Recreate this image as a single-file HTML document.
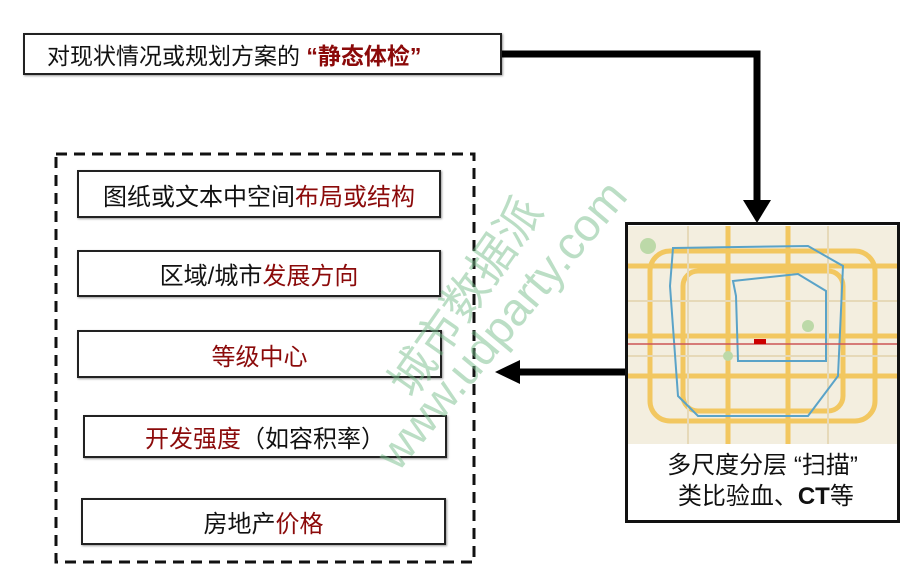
<!DOCTYPE html>
<html><head><meta charset="utf-8"><style>
body{margin:0;background:#fff;width:914px;height:579px;position:relative;overflow:hidden;font-family:"Liberation Sans","Noto Sans CJK SC",sans-serif}
.b{position:absolute;border:2px solid #222;background:#fff;box-sizing:border-box;display:flex;align-items:center;justify-content:center;font-size:24px;color:#111;box-shadow:1px 1px 2px #999}
.r{color:#8b0a0a}
</style></head><body>
<div class="b" style="left:23px;top:33px;width:479px;height:42px;font-size:23px;justify-content:flex-start;padding-left:22px">对现状情况或规划方案的&nbsp;<span class="r" style="font-weight:bold">“静态体检”</span></div>
<svg style="position:absolute;left:0;top:0" width="914" height="579">
<polyline points="502,54 757,54 757,205" fill="none" stroke="#000" stroke-width="7"/>
<polygon points="743,200 771,200 757,223" fill="#000"/>
<line x1="625" y1="372" x2="512" y2="372" stroke="#000" stroke-width="7"/>
<polygon points="495,372 520,360 520,384" fill="#000"/>
<rect x="56" y="154" width="418" height="408" fill="none" stroke="#111" stroke-width="3" stroke-dasharray="11,7"/>
</svg>
<div class="b" style="left:77px;top:170px;width:364px;height:48px">图纸或文本中空间<span class="r">布局或结构</span></div>
<div class="b" style="left:77px;top:250px;width:364px;height:47px">区域/城市<span class="r">发展方向</span></div>
<div class="b" style="left:77px;top:330px;width:365px;height:48px"><span class="r">等级中心</span></div>
<div class="b" style="left:83px;top:415px;width:364px;height:43px"><span class="r">开发强度</span>（如容积率）</div>
<div class="b" style="left:81px;top:498px;width:365px;height:47px">房地产<span class="r">价格</span></div>
<div style="position:absolute;left:625px;top:222px;width:275px;height:301px;border:3px solid #111;box-sizing:border-box;background:#fff">
<svg width="269" height="218" style="display:block;margin:1px 0 0 0" viewBox="0 0 269 218">
<rect width="269" height="218" fill="#f3eedf"/>
<g stroke="#f2c760" stroke-width="5" fill="none">
<rect x="22" y="25" width="225" height="170" rx="20"/>
<rect x="55" y="45" width="160" height="140" rx="15"/>
<line x1="0" y1="40" x2="269" y2="40"/><line x1="0" y1="110" x2="269" y2="110"/>
<line x1="0" y1="150" x2="269" y2="150"/><line x1="100" y1="0" x2="100" y2="218"/>
<line x1="160" y1="0" x2="160" y2="218"/>
</g>
<g stroke="#e6d9b8" stroke-width="2"><line x1="0" y1="75" x2="269" y2="75"/><line x1="0" y1="130" x2="269" y2="130"/><line x1="60" y1="0" x2="60" y2="218"/><line x1="200" y1="0" x2="200" y2="218"/></g>
<g stroke="#5aa3c8" stroke-width="2" fill="none">
<path d="M45 22 L180 20 L215 40 L210 150 L180 190 L70 190 L50 170 L42 60 Z"/>
<path d="M105 55 L170 48 L198 65 L198 135 L110 135 L108 70 Z"/>
</g>
<line x1="0" y1="118" x2="269" y2="118" stroke="#c55" stroke-width="1.5"/>
<rect x="126" y="113" width="12" height="5" fill="#c00"/>
<circle cx="100" cy="130" r="5" fill="#bcd9a8"/><circle cx="180" cy="100" r="6" fill="#bcd9a8"/><circle cx="20" cy="20" r="8" fill="#bcd9a8"/>
</svg>
<div style="text-align:center;font-size:24px;line-height:31px;color:#111;margin-top:6px">多尺度分层 “扫描”<br>&nbsp;类比验血、<b>CT</b>等</div>
</div>
<div style="position:absolute;transform:rotate(-55deg);transform-origin:left top;color:rgba(120,190,140,.5);font-size:46px;white-space:nowrap;top:370px;left:370px">城市数据派</div>
<div style="position:absolute;transform:rotate(-50deg);transform-origin:left top;color:rgba(120,190,140,.5);font-size:46px;white-space:nowrap;top:445px;left:365px">www.udparty.com</div>
</body></html>
